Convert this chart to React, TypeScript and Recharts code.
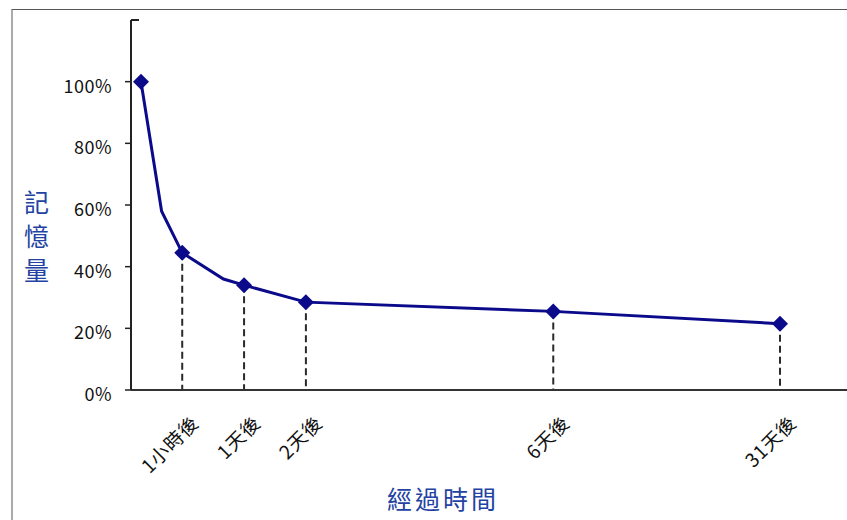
import React from 'react';
import { LineChart, Line, XAxis, YAxis, ReferenceLine } from 'recharts';

// Elapsed-time positions along the axis (Excel-style spacing) and retained memory (%)
const positions = [0, 1, 2, 4, 5, 8, 20, 31];
const retention = [100, 58, 44.5, 36, 34, 28.5, 25.5, 21.5];
const timeLabels = ['', '', '1小時後', '', '1天後', '2天後', '6天後', '31天後'];
const hasMarker = [true, false, true, false, true, true, true, true];
const hasDropLine = [false, false, true, false, true, true, true, true];

const yTicks = [0, 20, 40, 60, 80, 100, 120];
const yTickLabels = ['0%', '20%', '40%', '60%', '80%', '100%', ''];
const yTitle = ['記', '憶', '量'];
const xTitle = '經過時間';

const xTicks = positions.filter((_, i) => timeLabels[i] !== '');

const data = positions.map((p, i) => ({
  pos: p,
  value: retention[i],
  marker: hasMarker[i],
}));

const FONT = '"Noto Sans CJK TC", "Noto Sans", sans-serif';
const NAVY = '#0a0a8a';
const TITLE_BLUE = '#2343a3';

const renderDiamond = (props: any) => {
  const { cx, cy, index, payload } = props;
  if (!payload || !payload.marker) return <g key={`d${index}`} />;
  const r = 8;
  return (
    <path
      key={`d${index}`}
      d={`M${cx},${cy - r}L${cx + r},${cy}L${cx},${cy + r}L${cx - r},${cy}Z`}
      fill={NAVY}
    />
  );
};

const YTick = (props: any) => {
  const { y, payload } = props;
  const idx = yTicks.indexOf(payload.value);
  const label = yTickLabels[idx];
  if (!label) {
    return <line x1={131} y1={y} x2={139} y2={y} stroke="#222" strokeWidth={2} />;
  }
  return (
    <g>
      <line x1={125} y1={y} x2={131} y2={y} stroke="#222" strokeWidth={1.5} />
      <text
        x={112}
        y={y + 11}
        textAnchor="end"
        fontSize={18}
        letterSpacing={0.5}
        fill="#111"
        fontFamily={FONT}
      >
        {label}
      </text>
    </g>
  );
};

const XTick = (props: any) => {
  const { x, payload } = props;
  const idx = positions.indexOf(payload.value);
  const ax = x + 18;
  const ay = 424;
  return (
    <text
      x={ax}
      y={ay}
      transform={`rotate(-45, ${ax}, ${ay})`}
      textAnchor="end"
      fontSize={19}
      letterSpacing={1}
      fill="#111"
      fontFamily={FONT}
    >
      {timeLabels[idx]}
    </text>
  );
};

const YTitle = () => (
  <g>
    {yTitle.map((ch, i) => (
      <text
        key={ch}
        x={36.5}
        y={212 + i * 34}
        textAnchor="middle"
        fontSize={25}
        fill={TITLE_BLUE}
        fontFamily={FONT}
      >
        {ch}
      </text>
    ))}
  </g>
);

const XTitle = () => (
  <text
    x={443}
    y={509}
    textAnchor="middle"
    fontSize={25}
    letterSpacing={3}
    fill={TITLE_BLUE}
    fontFamily={FONT}
  >
    {xTitle}
  </text>
);

export default function App() {
  return (
    <div
      style={{
        position: 'absolute',
        left: 0,
        top: 0,
        width: 847,
        height: 520,
        background: '#fff',
        overflow: 'hidden',
      }}
    >
      <div
        style={{
          position: 'absolute',
          left: 11,
          top: 9,
          right: 0,
          bottom: 0,
          borderLeft: '2px solid #aaa',
          borderTop: '1.5px solid #555',
        }}
      />
      <div style={{ position: 'absolute', left: 0, top: 0 }}>
        <LineChart
          width={847}
          height={520}
          data={data}
          margin={{ top: 20, right: 0, bottom: 30, left: 31 }}
        >
          <XAxis
            dataKey="pos"
            type="number"
            domain={[-0.485, 34.25]}
            ticks={xTicks}
            interval={0}
            tick={<XTick />}
            tickLine={false}
            axisLine={{ stroke: '#333', strokeWidth: 2 }}
            height={100}
            allowDataOverflow
            label={<XTitle />}
          />
          <YAxis
            type="number"
            domain={[0, 120]}
            ticks={yTicks}
            interval={0}
            tick={<YTick />}
            tickLine={false}
            axisLine={{ stroke: '#222', strokeWidth: 2 }}
            width={100}
            allowDataOverflow
            label={<YTitle />}
          />
          {data.map((d, i) =>
            hasDropLine[i] ? (
              <ReferenceLine
                key={`drop${i}`}
                segment={[
                  { x: d.pos, y: d.value },
                  { x: d.pos, y: 0 },
                ]}
                stroke="#2a2a2a"
                strokeWidth={2}
                strokeDasharray="7 4"
              />
            ) : null
          )}
          <Line
            dataKey="value"
            type="linear"
            stroke={NAVY}
            strokeWidth={3}
            dot={renderDiamond}
            activeDot={false}
            isAnimationActive={false}
          />
        </LineChart>
      </div>
    </div>
  );
}
